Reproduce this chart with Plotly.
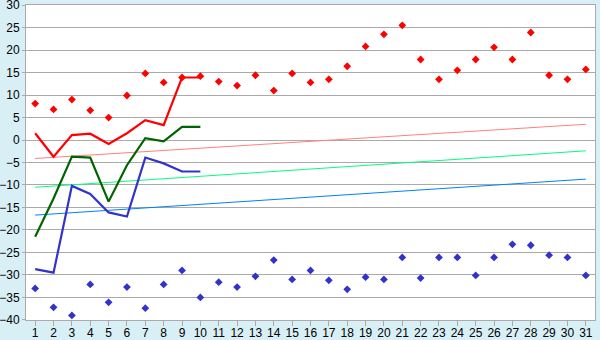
import plotly.graph_objects as go

days = list(range(1, 32))
red_pts = [8.1, 6.8, 9.0, 6.6, 5.0, 9.9, 14.8, 12.8, 13.9, 14.2, 13.0, 12.1, 14.4, 11.0, 14.8, 12.8,
           13.5, 16.4, 20.8, 23.5, 25.5, 17.9, 13.5, 15.5, 17.9, 20.6, 17.9, 23.9, 14.4, 13.5, 15.7]
blue_pts = [-33.0, -37.2, -39.0, -32.1, -36.1, -32.7, -37.4, -32.1, -29.0, -35.0, -31.6, -32.7, -30.3,
            -26.7, -31.0, -29.0, -31.2, -33.2, -30.5, -31.0, -26.1, -30.7, -26.1, -26.1, -30.1, -26.1,
            -23.2, -23.4, -25.6, -26.1, -30.1]
line_days = list(range(1, 11))
red_line = [1.5, -3.7, 1.1, 1.4, -0.9, 1.5, 4.4, 3.3, 13.9, 13.9]
green_line = [-21.5, -13.0, -3.7, -3.9, -13.7, -5.6, 0.4, -0.3, 2.9, 2.9]
blue_line = [-28.7, -29.5, -10.2, -12.0, -16.1, -17.0, -3.9, -5.2, -7.0, -7.0]
trend_x = [1, 31]
trend_red = [-4.1, 3.5]
trend_green = [-10.5, -2.4]
trend_blue = [-16.7, -8.7]
y_ticks = list(range(-40, 31, 5))

fig = go.Figure()
for ys, c in [(trend_red, "#ff8080"), (trend_green, "#00ff80"), (trend_blue, "#0080ff")]:
    fig.add_trace(go.Scatter(x=trend_x, y=ys, mode="lines", line=dict(color=c, width=1)))
for ys, c in [(red_line, "#ff0000"), (green_line, "#006400"), (blue_line, "#3333cc")]:
    fig.add_trace(go.Scatter(x=line_days, y=ys, mode="lines", line=dict(color=c, width=2.2)))
fig.add_trace(go.Scatter(x=days, y=red_pts, mode="markers",
                         marker=dict(symbol="diamond", size=6, color="#ff0000")))
fig.add_trace(go.Scatter(x=days, y=blue_pts, mode="markers",
                         marker=dict(symbol="diamond", size=6, color="#3333cc")))

fig.update_layout(
    width=600, height=340, showlegend=False,
    margin=dict(l=26, r=5, t=5, b=20, autoexpand=False),
    paper_bgcolor="#d9eff6", plot_bgcolor="#ffffff",
    font=dict(family="Liberation Sans", size=12, color="#000000"),
    xaxis=dict(range=[0.5, 31.5], tickvals=days, ticks="outside", ticklen=5, tickcolor="#aaaaaa",
               showgrid=False, showline=True, linecolor="#aaaaaa", mirror=True, zeroline=False,
               ticklabelstandoff=-3, automargin=False, ticklabeloverflow="allow"),
    yaxis=dict(range=[-40.02, 30.02], tickvals=y_ticks, showgrid=True, gridcolor="#aaaaaa", gridwidth=1,
               showline=True, linecolor="#aaaaaa", mirror=True, zeroline=False,
               ticks="outside", ticklen=3, tickcolor="#aaaaaa", ticklabelstandoff=0,
               automargin=False, ticklabeloverflow="allow"),
)
fig.write_html("out.html")
